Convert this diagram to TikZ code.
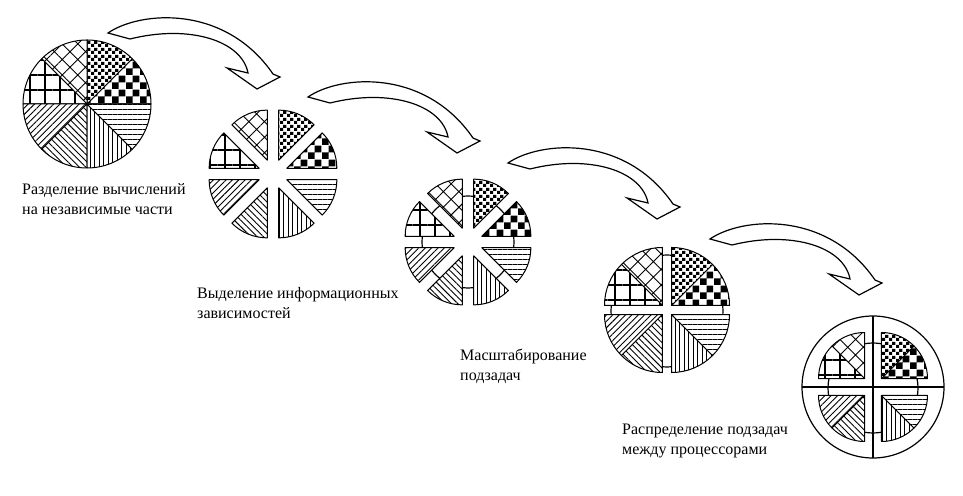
\documentclass[tikz,border=0pt]{standalone}
\usepackage{fontspec}
\setmainfont{Liberation Serif}
\usetikzlibrary{patterns,patterns.meta}

% checker fills of two sizes
\pgfdeclarepatternformonly{bigcheck}{\pgfpointorigin}{\pgfqpoint{14pt}{14pt}}{\pgfqpoint{14pt}{14pt}}{%
  \pgfpathrectangle{\pgfpointorigin}{\pgfqpoint{7pt}{7pt}}%
  \pgfpathrectangle{\pgfqpoint{7pt}{7pt}}{\pgfqpoint{7pt}{7pt}}%
  \pgfusepath{fill}}
\pgfdeclarepatternformonly{smallcheck}{\pgfpointorigin}{\pgfqpoint{7pt}{7pt}}{\pgfqpoint{7pt}{7pt}}{%
  \pgfpathrectangle{\pgfpointorigin}{\pgfqpoint{3.5pt}{3.5pt}}%
  \pgfpathrectangle{\pgfqpoint{3.5pt}{3.5pt}}{\pgfqpoint{3.5pt}{3.5pt}}%
  \pgfusepath{fill}}

\begin{document}
\begin{tikzpicture}[
    x=1pt, y=1pt,
    every node/.style={font=\fontsize{16}{20}\selectfont, inner sep=0pt, align=left},
    sec/.style={draw=black, line width=1pt, line join=round, preaction={fill=white}},
    ring/.style={draw=black, line width=1.2pt},
    bigarrow/.style={draw=black, line width=1.2pt, fill=white, line join=miter},
    pbig/.style={pattern=bigcheck},
    psmall/.style={pattern=smallcheck},
    pcross/.style={pattern={Hatch[angle=45,distance=11pt,line width=0.9pt]}},
    pgrid/.style={pattern={Hatch[angle=0,distance=15pt,line width=1.1pt]}},
    pne/.style={pattern={Lines[angle=45,distance=4.5pt,line width=0.9pt]}},
    pnw/.style={pattern={Lines[angle=-45,distance=4.5pt,line width=0.9pt]}},
    pvert/.style={pattern={Lines[angle=90,distance=4.5pt,line width=1pt]}},
    phor/.style={pattern={Lines[angle=0,distance=5pt,line width=1pt]}},
]
\useasboundingbox (0,0) rectangle (963,495);

% start angle / fill / quadrant direction
\def\sectorlist{0/pbig/45, 45/psmall/45, 90/pcross/135, 135/pgrid/135,
  180/pne/225, 225/pnw/225, 270/pvert/315, 315/phor/315}

% === Step 1: whole computation ===
\begin{scope}[shift={(87,391)}]
  \foreach \a/\p/\q in \sectorlist
    \path[sec,\p] (0,0) -- (\a:64) arc[start angle=\a, delta angle=45, radius=64] -- cycle;
\end{scope}

% === Step 2: independent parts ===
\begin{scope}[shift={(273,321)}]
  \foreach \a/\p/\q in \sectorlist {
    \pgfmathsetmacro\b{\a+22.5}
    \path[sec,\p,shift={(\b:15)}] (0,0) -- (\a:50) arc[start angle=\a, delta angle=45, radius=50] -- cycle;
  }
\end{scope}

% === Step 3: dependencies (ring behind the parts) ===
\begin{scope}[shift={(468,253)}]
  \draw[ring] (0,0) circle[radius=46];
  \foreach \a/\p/\q in \sectorlist {
    \pgfmathsetmacro\b{\a+22.5}
    \path[sec,\p,shift={(\b:15)}] (0,0) -- (\a:49) arc[start angle=\a, delta angle=45, radius=49] -- cycle;
  }
\end{scope}

% === Step 4: merged subtasks ===
\begin{scope}[shift={(667,185)}]
  \draw[ring] (0,-1) circle[radius=56];
  \foreach \a/\p/\q in \sectorlist
    \path[sec,\p,shift={(\q:6.4)}] (0,0) -- (\a:58) arc[start angle=\a, delta angle=45, radius=58] -- cycle;
\end{scope}

% === Step 5: mapping onto processors ===
\begin{scope}[shift={(873,108)}]
  \draw[ring] (0,0) circle[radius=71];
  \draw[ring] (-71,0) -- (71,0) (0,-71) -- (0,71);
  \draw[ring] (0,-1) circle[radius=45];
  \foreach \a/\p/\q in \sectorlist
    \path[sec,\p,shift={(\q:12)}] (0,0) -- (\a:46) arc[start angle=\a, delta angle=45, radius=46] -- cycle;
\end{scope}

% block arrows between the steps
\foreach \dx/\dy in {-200/64, 0/0, 200/-66, 402/-142}
  \draw[bigarrow, shift={(\dx,\dy)}] (308,398) .. controls (340,420) and (425,427) .. (473,357)
    -- (480,354) -- (457,342) -- (427,363) -- (448,358)
    .. controls (442,390) and (390,407) .. (330,392) -- cycle;

% captions
\node[anchor=north west] (lblsplit) at (22,312) {Разделение вычислений\\на независимые части};
\node[anchor=north west] (lbldeps) at (197,208) {Выделение информационных\\зависимостей};
\node[anchor=north west] (lblscale) at (460,146) {Масштабирование\\подзадач};
\node[anchor=north west] (lblmap) at (622,71) {Распределение подзадач\\между процессорами};

\end{tikzpicture}
\end{document}
